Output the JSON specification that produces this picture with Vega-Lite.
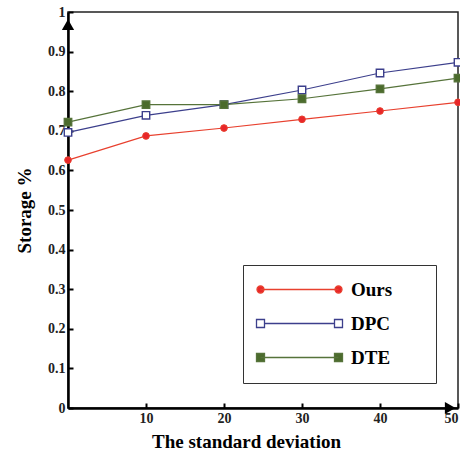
{
  "$schema": "https://vega.github.io/schema/vega-lite/v6.json",
  "autosize": {"type": "none"},
  "padding": {"left": 68, "top": 12, "right": 2, "bottom": 43},
  "width": 390,
  "height": 396,
  "background": "white",
  "config": {
    "view": {"stroke": "#222", "strokeWidth": 1.5},
    "font": "Liberation Serif",
    "axis": {
      "grid": false,
      "domainColor": "black",
      "domainWidth": 2.5,
      "tickColor": "black",
      "tickWidth": 2,
      "tickSize": -5,
      "labelFont": "Liberation Serif",
      "labelFontWeight": "bold",
      "labelFontSize": 14,
      "labelColor": "#222",
      "titleFont": "Liberation Serif",
      "titleFontWeight": "bold",
      "titleFontSize": 19,
      "titleColor": "black"
    }
  },
  "datasets": {
    "series": [
      {"sd": 0, "storage": 0.626, "method": "Ours"},
      {"sd": 10, "storage": 0.687, "method": "Ours"},
      {"sd": 20, "storage": 0.707, "method": "Ours"},
      {"sd": 30, "storage": 0.729, "method": "Ours"},
      {"sd": 40, "storage": 0.75, "method": "Ours"},
      {"sd": 50, "storage": 0.772, "method": "Ours"},
      {"sd": 0, "storage": 0.696, "method": "DPC"},
      {"sd": 10, "storage": 0.739, "method": "DPC"},
      {"sd": 20, "storage": 0.766, "method": "DPC"},
      {"sd": 30, "storage": 0.803, "method": "DPC"},
      {"sd": 40, "storage": 0.846, "method": "DPC"},
      {"sd": 50, "storage": 0.873, "method": "DPC"},
      {"sd": 0, "storage": 0.722, "method": "DTE"},
      {"sd": 10, "storage": 0.766, "method": "DTE"},
      {"sd": 20, "storage": 0.766, "method": "DTE"},
      {"sd": 30, "storage": 0.781, "method": "DTE"},
      {"sd": 40, "storage": 0.806, "method": "DTE"},
      {"sd": 50, "storage": 0.833, "method": "DTE"}
    ],
    "arrowUp": [{"sd": 0, "storage": 0.968}],
    "arrowRight": [{"sd": 49, "storage": 0}]
  },
  "data": {"name": "series"},
  "encoding": {
    "x": {
      "field": "sd", "type": "quantitative",
      "scale": {"domain": [0, 50], "nice": false},
      "axis": {"values": [10, 20, 30, 40, 50], "title": "The standard deviation", "labelPadding": 8, "titlePadding": 7, "titleX": 178}
    },
    "y": {
      "field": "storage", "type": "quantitative",
      "scale": {"domain": [0, 1], "nice": false},
      "axis": {"values": [0, 0.1, 0.2, 0.3, 0.4, 0.5, 0.6, 0.7, 0.8, 0.9, 1], "format": "~g", "title": "Storage %", "labelPadding": 8, "titlePadding": 13}
    }
  },
  "layer": [
    {
      "mark": {"type": "line", "strokeWidth": 1.2},
      "encoding": {
        "stroke": {
          "field": "method", "type": "nominal",
          "scale": {"domain": ["Ours", "DPC", "DTE"], "range": ["#e8402e", "#3c3f8c", "#56733a"]}
        }
      }
    },
    {
      "transform": [{"filter": "datum.method === 'Ours'"}],
      "mark": {"type": "point", "shape": "circle", "filled": true, "size": 45, "strokeWidth": 1, "opacity": 1},
      "encoding": {
        "fill": {
          "field": "method", "type": "nominal",
          "scale": {"domain": ["Ours", "DPC", "DTE"], "range": ["#e8262a", "white", "#4b6b2c"]}
        },
        "stroke": {"field": "method", "type": "nominal"}
      }
    },
    {
      "transform": [{"filter": "datum.method !== 'Ours'"}],
      "mark": {"type": "point", "shape": "square", "filled": true, "size": 55, "strokeWidth": 1.4, "opacity": 1},
      "encoding": {
        "fill": {"field": "method", "type": "nominal"},
        "stroke": {"field": "method", "type": "nominal"}
      }
    },
    {
      "mark": {"type": "point", "filled": true, "opacity": 0},
      "encoding": {
        "shape": {
          "field": "method", "type": "nominal",
          "scale": {
            "domain": ["Ours", "DPC", "DTE"],
            "range": [
              "M-7.8,0L7.8,0M-8.5,0a0.7,0.7 0 1,0 1.4,0a0.7,0.7 0 1,0 -1.4,0ZM7.1,0a0.7,0.7 0 1,0 1.4,0a0.7,0.7 0 1,0 -1.4,0Z",
              "M-7,0L7,0M-8.6,-0.8h1.6v1.6h-1.6ZM7,-0.8h1.6v1.6h-1.6Z",
              "M-7.8,0L7.8,0M-8.6,-0.8h1.6v1.6h-1.6ZM7,-0.8h1.6v1.6h-1.6Z"
            ]
          },
          "legend": {
            "title": null,
            "orient": "none",
            "legendX": 175,
            "legendY": 253,
            "direction": "vertical",
            "strokeColor": "#333",
            "padding": 15,
            "symbolSize": 100,
            "symbolStrokeWidth": 1.3,
            "symbolOpacity": 1,
            "symbolOffset": 32,
            "labelFont": "Liberation Serif",
            "labelFontWeight": "bold",
            "labelFontSize": 19,
            "labelColor": "black",
            "labelOffset": 42,
            "rowPadding": 14,
            "labelExpr": "datum.label + '\u2800\u2800'"
          }
        },
        "fill": {"field": "method", "type": "nominal"},
        "stroke": {"field": "method", "type": "nominal"}
      }
    },
    {
      "data": {"name": "arrowUp"},
      "mark": {"type": "point", "shape": "triangle-up", "filled": true, "color": "black", "opacity": 1, "size": 150}
    },
    {
      "data": {"name": "arrowRight"},
      "mark": {"type": "point", "shape": "triangle-right", "filled": true, "color": "black", "opacity": 1, "size": 150}
    }
  ]
}
